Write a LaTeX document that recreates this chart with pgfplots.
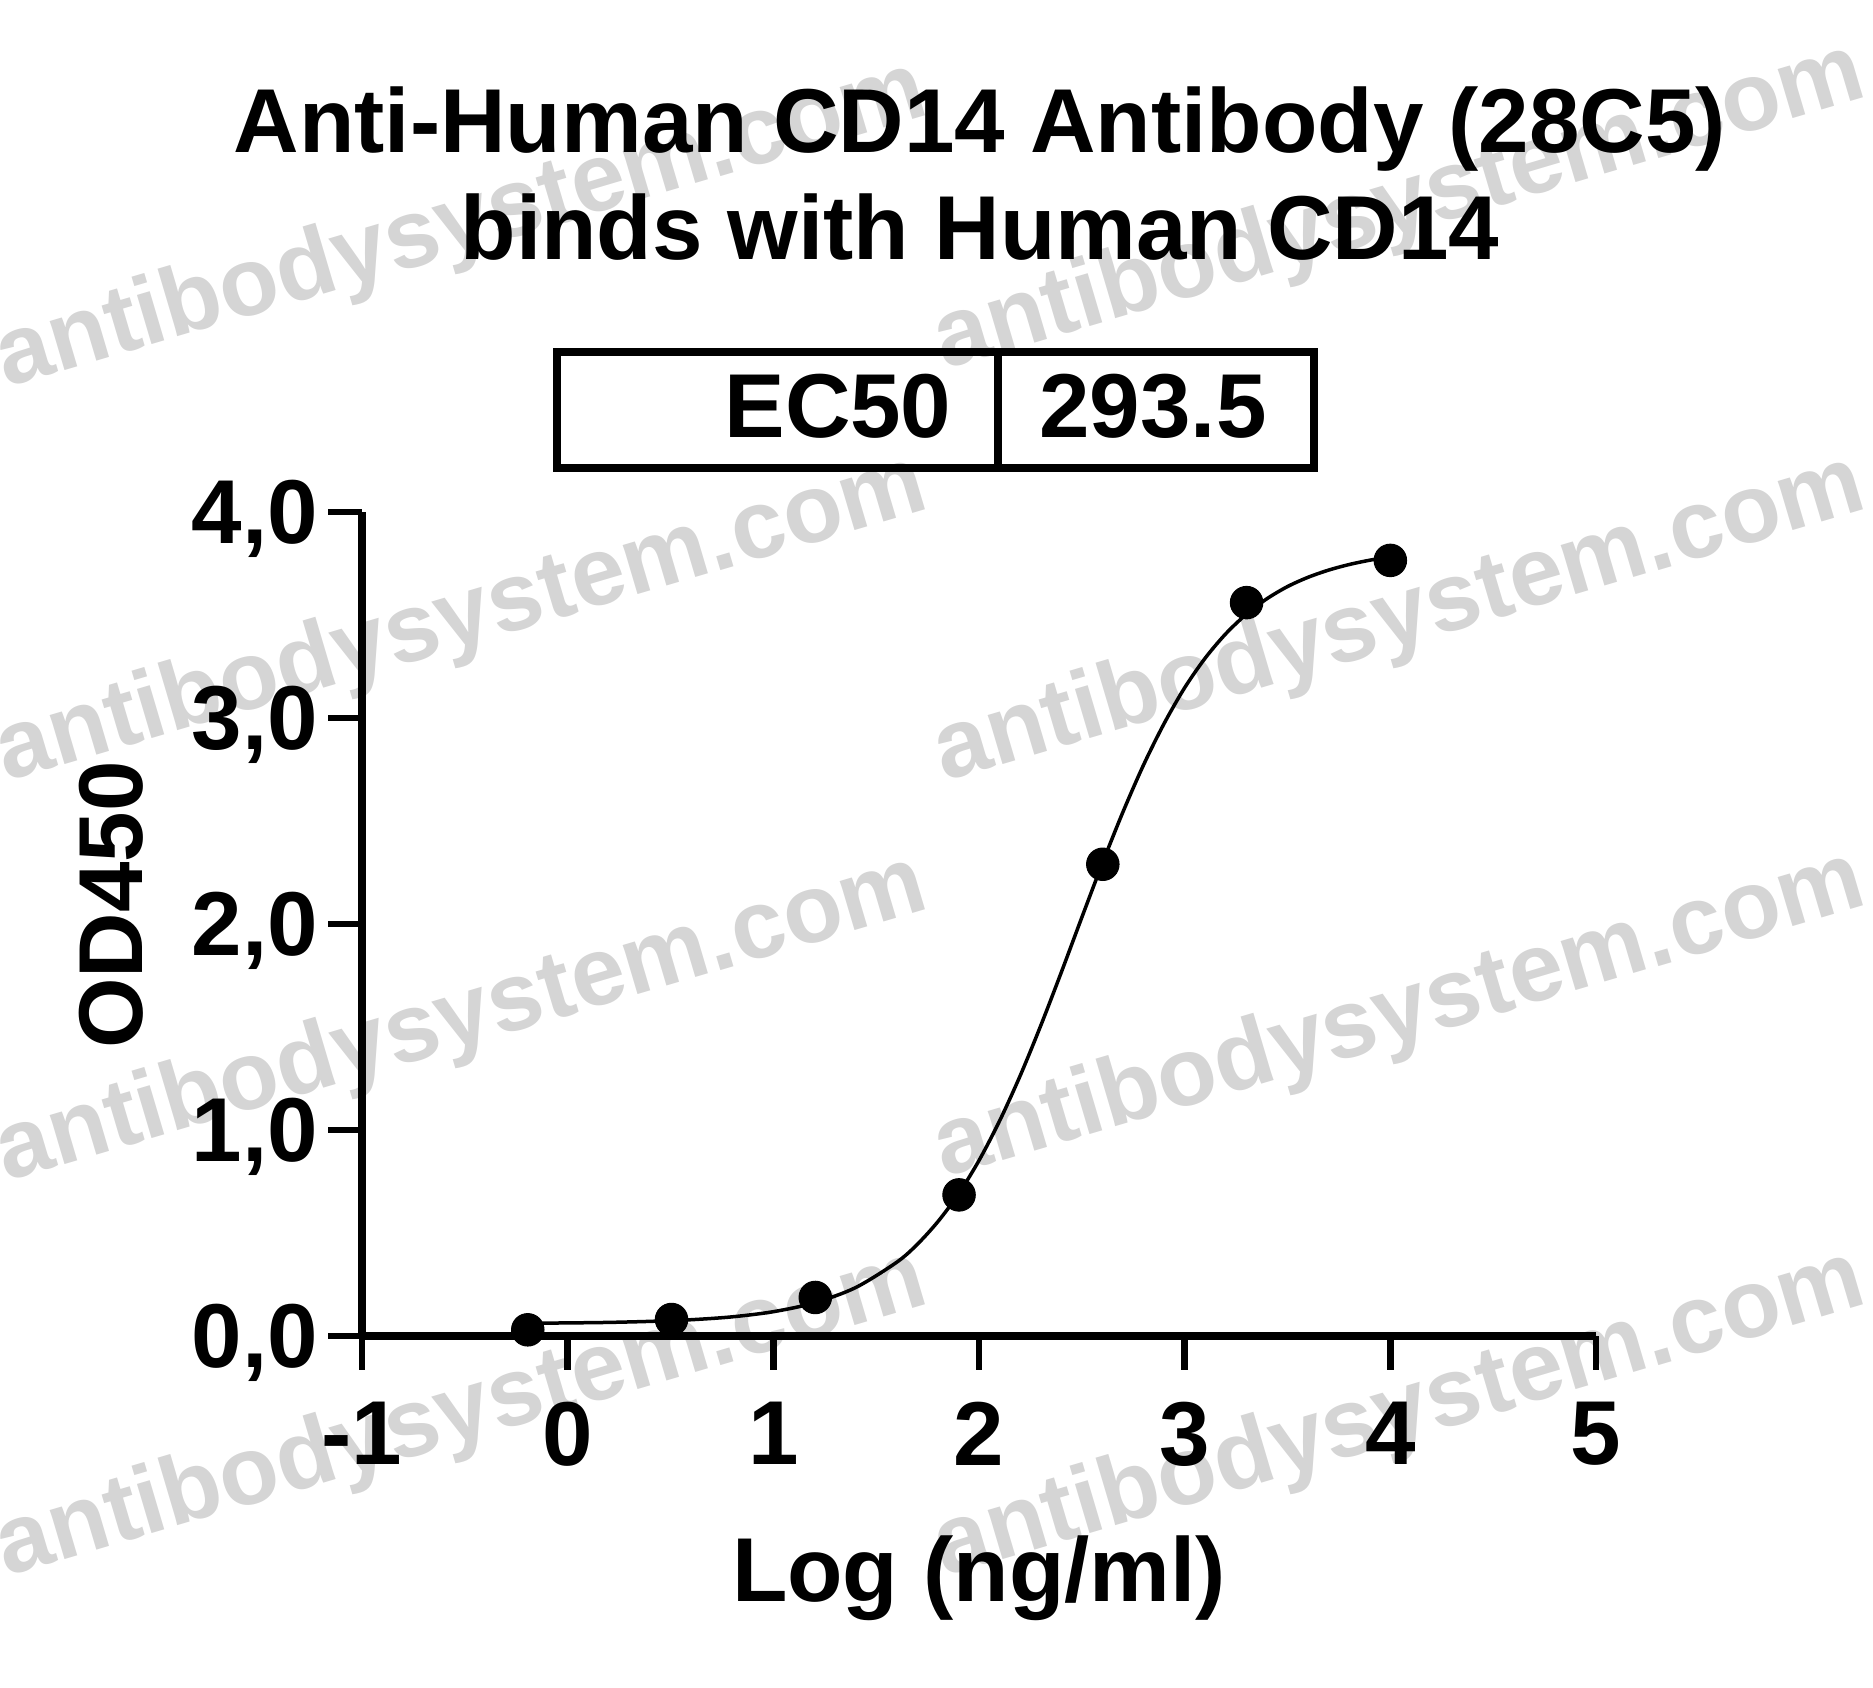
\documentclass[border=0pt]{standalone}
\usepackage{fontspec}
\setmainfont{Liberation Sans}
\usepackage{pgfplots}
\pgfplotsset{compat=1.18}
\newcommand\bigfont{\fontsize{36.3bp}{43bp}\selectfont\bfseries}
\newcommand\wmfont{\fontsize{38.8bp}{46bp}\selectfont\bfseries}
\begin{document}
\begin{tikzpicture}
\useasboundingbox (0,0) rectangle (749.2bp,675.2bp);
\begin{scope}[shift={(0pt,675.2bp)},x=0.4bp,y=-0.4bp]
  \foreach \sx/\sy in {6/388, 944/370, 6/782, 944/782, 6/1182, 944/1178, 6/1577, 944/1577}
    \node[anchor=base west, rotate=16.5, text=gray!33, inner sep=0pt, font=\wmfont] at (\sx,\sy) {antibodysystem.com};
  \node[anchor=base, font=\bigfont, inner sep=0pt] at (980,153) {Anti-Human CD14 Antibody (28C5)};
  \node[anchor=base, font=\bigfont, inner sep=0pt] at (980,260) {binds with Human CD14};
  \draw[line width=3bp] (557,352) rectangle (1314,468);
  \draw[line width=3bp] (998,352) -- (998,468);
  \node[anchor=base east, font=\bigfont, inner sep=0pt] at (952,438) {EC50};
  \node[anchor=base, font=\bigfont, inner sep=0pt] at (1153,438) {293.5};
\end{scope}
\begin{axis}[
  at={(144.8bp,140.8bp)}, anchor=south west,
  scale only axis, width=493.6bp, height=329.6bp,
  xmin=-1, xmax=5, ymin=0, ymax=4,
  axis x line*=bottom, axis y line*=left,
  axis line style={line width=3bp},
  tick align=outside, major tick length=13.5bp,
  tick style={line width=2.6bp, black},
  xtick={-1,0,1,2,3,4,5}, xticklabels={-1,0,1,2,3,4,5},
  ytick={0,1,2,3,4}, yticklabels={{0,0},{1,0},{2,0},{3,0},{4,0}},
  minor tick num=0,
  tick label style={font=\bigfont},
  xticklabel style={yshift=-9.5bp},
  yticklabel style={inner sep=4bp, text depth=0pt},
  xlabel={Log (ng/ml)}, ylabel={OD450},
  label style={font=\bigfont},
  xlabel style={at={(axis description cs:0.5,-0.322)}, anchor=base, inner sep=0pt},
  ylabel style={at={(axis description cs:-0.1775,0.523)}, anchor=base, inner sep=0pt},
  clip=false,
]
\addplot[smooth, line width=1.4bp, black] coordinates {
(-0.194,0.062) (0,0.0635) (0.2,0.066) (0.4,0.071) (0.6,0.079) (0.8,0.093)
(1.0,0.118) (1.2,0.161) (1.4,0.235) (1.6,0.358) (1.7,0.445) (1.8,0.555)
(1.9,0.689) (2.0,0.852) (2.1,1.044) (2.2,1.263) (2.3,1.506) (2.4,1.765)
(2.5,2.032) (2.6,2.295) (2.7,2.544) (2.8,2.772) (2.9,2.973) (3.0,3.147)
(3.1,3.291) (3.2,3.409) (3.3,3.504) (3.4,3.579) (3.5,3.638) (3.6,3.683)
(3.7,3.718) (3.8,3.745) (3.9,3.766) (4.0,3.782)};
\addplot[only marks, mark=*, mark size=6.5bp, mark options={fill=black, draw=black}] coordinates {
(-0.194,0.03) (0.505,0.08) (1.204,0.187) (1.903,0.685) (2.602,2.29) (3.301,3.56) (4.0,3.765)};
\end{axis}
\end{tikzpicture}
\end{document}
